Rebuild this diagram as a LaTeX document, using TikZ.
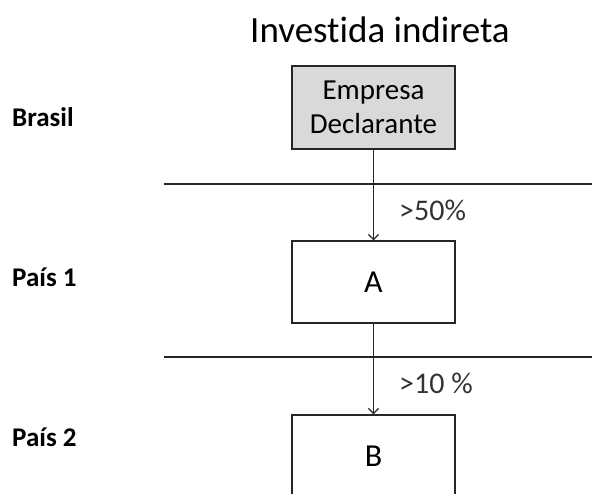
\documentclass[tikz,border=0pt]{standalone}
\usepackage{fontspec}
\setmainfont{Carlito}[Ligatures=NoCommon]
\usetikzlibrary{arrows.meta}
\definecolor{boxgray}{HTML}{D9D9D9}
\tikzset{
  boxnode/.style={draw=black!85, line width=1.3pt, minimum width=163pt, minimum height=82pt, inner sep=0pt, align=center, font=\fontsize{32}{38}\selectfont},
  rowlabel/.style={anchor=west, inner sep=0pt, font=\fontsize{27}{33}\selectfont\bfseries},
  pctlabel/.style={anchor=west, inner sep=0pt, text=black!80, font=\fontsize{30}{36}\selectfont},
  sepline/.style={line width=2pt, black!85},
  link/.style={line width=1.2pt, black!85, -{Straight Barb[length=5pt,width=10pt,line width=1.3pt]}}
}
\begin{document}
\begin{tikzpicture}[x=1pt,y=-1pt]
\useasboundingbox (0,0) rectangle (592,493);
\clip (0,0) rectangle (592,493);
\node[inner sep=0pt, font=\fontsize{37}{44}\selectfont] (title) at (380,30) {Investida indireta};
\node[rowlabel] (brasil) at (12,117) {Brasil};
\node[rowlabel] (pais1) at (12,277) {País 1};
\node[rowlabel] (pais2) at (12,437) {País 2};
\node[boxnode, fill=boxgray, minimum height=83pt, font=\fontsize{29}{34}\selectfont] (emp) at (373.5,107.5) {Empresa\\Declarante};
\node[boxnode, fill=white] (A) at (373.5,282) {A};
\node[boxnode, fill=white] (B) at (373.5,456) {B};
\coordinate (l1a) at (164,184);
\coordinate (l1b) at (592,184);
\coordinate (l2a) at (164,357);
\coordinate (l2b) at (592,357);
\draw[sepline] (l1a) -- (l1b);
\draw[sepline] (l2a) -- (l2b);
\draw[link] (emp.south) -- (A.north);
\draw[link] (A.south) -- (B.north);
\node[pctlabel] (p50) at (399,210) {>50\%};
\node[pctlabel] (p10) at (399,383) {>10 \%};
\end{tikzpicture}
\end{document}
